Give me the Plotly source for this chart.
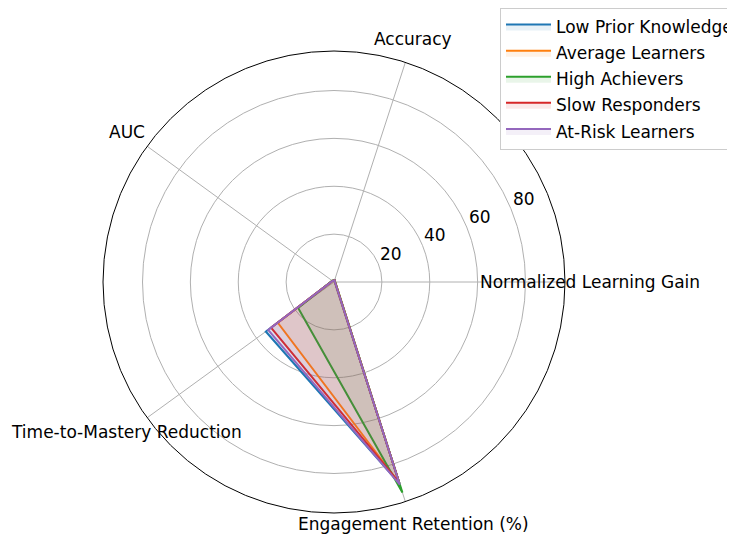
import math
import plotly.graph_objects as go

categories = ["Normalized Learning Gain", "Accuracy", "AUC",
              "Time-to-Mastery Reduction", "Engagement Retention (%)"]
series_names = ["Low Prior Knowledge", "Average Learners", "High Achievers",
                "Slow Responders", "At-Risk Learners"]
low_prior = [0.4, 0.8, 0.8, 35.2, 88.5]
average = [0.5, 0.8, 0.8, 29.0, 88.5]
high_ach = [0.5, 0.9, 0.9, 18.5, 92.5]
slow_resp = [0.4, 0.8, 0.8, 32.5, 88.0]
at_risk = [0.4, 0.8, 0.8, 34.0, 89.0]
all_values = [low_prior, average, high_ach, slow_resp, at_risk]
colors = ["#1f77b4", "#ff7f0e", "#2ca02c", "#d62728", "#9467bd"]
fills = ["rgba(31,119,180,0.1)", "rgba(255,127,14,0.1)", "rgba(44,160,44,0.1)",
         "rgba(214,39,40,0.1)", "rgba(148,103,189,0.1)"]
radial_ticks = [20, 40, 60, 80]
r_max = 96.5

W, H = 735, 535
cx, cy, R = 334, 282, 231
off = 8  # page body margin offsets the figure inside the window
font = "DejaVu Sans"
fs = 17


def paper(x, y):
    return (x - off) / W, 1 - (y - off) / H


fig = go.Figure()
for name, vals, c, fc in zip(series_names, all_values, colors, fills):
    fig.add_trace(go.Scatterpolar(
        r=vals + vals[:1], theta=categories + categories[:1],
        mode="lines", name=name, line=dict(color=c, width=2),
        fill="toself", fillcolor=fc, legendgroup=name,
    ))

annotations = []
n = len(categories)
for i, cat in enumerate(categories):
    ang = 2 * math.pi * i / n
    px = cx + 256 * math.cos(ang)
    py = min(cy - 256 * math.sin(ang), 524)
    ax_, ay_ = paper(px, py)
    annotations.append(dict(
        x=ax_, y=ay_, xref="paper", yref="paper", text=cat,
        showarrow=False, xanchor="center", yanchor="middle",
        font=dict(family=font, size=fs, color="#000000"),
    ))

# radial tick labels (matplotlib style: horizontal, at 22.5 deg, offset outward)
rl = math.radians(22.5)
for v in radial_ticks:
    rp = R * v / r_max
    px = cx + rp * math.cos(rl) + 13
    py = cy - rp * math.sin(rl) - 10
    ax_, ay_ = paper(px, py)
    annotations.append(dict(
        x=ax_, y=ay_, xref="paper", yref="paper", text=str(v),
        showarrow=False, xanchor="center", yanchor="middle",
        font=dict(family=font, size=fs, color="#000000"),
    ))

x0, y1 = paper(cx - R, cy + R)
x1, y0 = paper(cx + R, cy - R)
lx, ly = paper(500, 7)
fig.update_layout(
    width=W, height=H,
    margin=dict(l=0, r=0, t=0, b=0),
    paper_bgcolor="white",
    font=dict(family=font, size=fs, color="#000000"),
    polar=dict(
        domain=dict(x=[x0, x1], y=[y1, y0]),
        bgcolor="white",
        angularaxis=dict(
            type="category", categoryarray=categories, rotation=0,
            direction="counterclockwise", showticklabels=False, ticks="",
            showgrid=True, gridcolor="#b0b0b0", gridwidth=1,
            showline=True, linecolor="#000000", linewidth=1,
        ),
        radialaxis=dict(
            range=[0, r_max], tickvals=radial_ticks, angle=22.5,
            showline=False, ticks="", showticklabels=False,
            showgrid=True, gridcolor="#b0b0b0", gridwidth=1,
        ),
    ),
    legend=dict(
        x=lx, y=min(ly, 1.0), xanchor="left", yanchor="top",
        bordercolor="#cccccc", borderwidth=1, bgcolor="white",
        font=dict(family=font, size=fs, color="#000000"),
        tracegroupgap=1, itemwidth=45,
    ),
    annotations=annotations,
)

fig.write_html("out.html")
